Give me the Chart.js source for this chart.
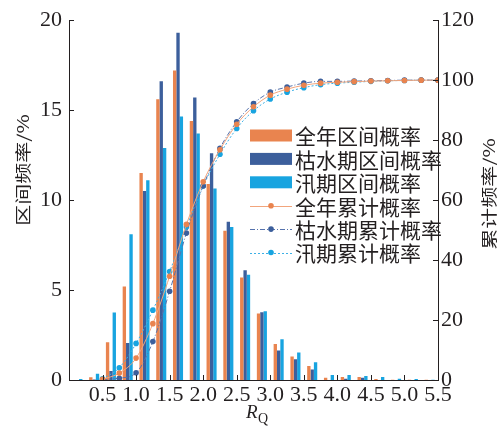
<!DOCTYPE html>
<html>
<head>
<meta charset="utf-8">
<script src="https://cdn.jsdelivr.net/npm/chart.js@4/dist/chart.umd.min.js"></script>
<style>
  html, body { margin: 0; padding: 0; background: #fff; }
</style>
</head>
<body>
<canvas id="myChart" width="497" height="435"></canvas>
<script>
// histogram bins (RQ), 0.25 wide, given by their centres
let binCentres = [0.125, 0.375, 0.625, 0.875, 1.125, 1.375, 1.625, 1.875, 2.125, 2.375, 2.625,
                  2.875, 3.125, 3.375, 3.625, 3.875, 4.125, 4.375, 4.625, 4.875, 5.125, 5.375];
let annualFreq = [0, 0.15, 2.1, 5.2, 11.5, 15.6, 17.2, 14.4, 10.9, 8.3, 5.7,
                  3.7, 2.0, 1.3, 0.78, 0.13, 0.17, 0.17, 0.05, 0.02, 0.02, 0.02];
let dryFreq = [0, 0.03, 0.5, 2.05, 10.5, 16.6, 19.3, 15.7, 12.6, 8.8, 6.1,
               3.77, 1.64, 1.16, 0.59, 0, 0.07, 0.13, 0, 0, 0, 0];
let floodFreq = [0.05, 0.35, 3.75, 8.1, 11.1, 12.9, 14.65, 13.7, 10.65, 8.5, 5.85,
                 3.82, 2.27, 1.53, 0.98, 0.28, 0.28, 0.22, 0.17, 0.07, 0.05, 0.02];

// cumulative curves, read at the right edge of each bin
let cumEdges = [0.5, 0.75, 1.0, 1.25, 1.5, 1.75, 2.0, 2.25, 2.5, 2.75, 3.0,
                3.25, 3.5, 3.75, 4.0, 4.25, 4.5, 4.75, 5.0, 5.25, 5.5];
let annualCum = [0.2, 2.3, 7.3, 18.8, 34.6, 51.9, 66.1, 76.8, 85.3, 91.1, 95.0,
                 97.0, 98.3, 99.0, 99.3, 99.5, 99.7, 99.8, 99.9, 100, 100];
let dryCum = [0.1, 0.6, 2.4, 12.8, 29.6, 49.0, 64.7, 77.3, 86.1, 92.2, 96.0,
              97.7, 99.0, 99.6, 99.6, 99.7, 99.8, 99.9, 100, 100, 100];
let floodCum = [0.4, 4.1, 12.2, 23.3, 36.2, 51.0, 64.7, 75.3, 83.9, 89.8, 93.7,
                96.0, 97.5, 98.5, 99.0, 99.3, 99.6, 99.8, 99.9, 100, 100];

let seriesNames = ['全年区间概率', '枯水期区间概率', '汛期区间概率',
                   '全年累计概率', '枯水期累计概率', '汛期累计概率'];
let xTickLabels = ['0.5', '1.0', '1.5', '2.0', '2.5', '3.0', '3.5', '4.0', '4.5', '5.0', '5.5'];
let leftTitle = '区间频率/%';
let rightTitle = '累计频率/%';

const ink = '#231f20';
const numFont = {family: '"Liberation Serif", "Times New Roman", serif', size: 22};
const cjk = '"Noto Sans CJK SC", sans-serif';

const orange = '#e9844f', navy = '#3c5f9c', cyan = '#18a4e0';

function toXY(xs, ys) {
    return xs.map((x, i) => ({x: x, y: ys[i]}));
}

function barSet(i, ys, color) {
    return {type: 'bar', label: seriesNames[i], data: toXY(binCentres, ys), yAxisID: 'y',
            backgroundColor: color, categoryPercentage: 0.6, barPercentage: 1.0, order: 1};
}
function lineSet(i, ys, lineColor, dotColor, dash) {
    return {type: 'line', label: seriesNames[i], data: toXY(cumEdges, ys), yAxisID: 'y2',
            borderColor: lineColor, borderWidth: 1, borderDash: dash,
            pointRadius: 2.8, pointBorderWidth: 0, pointBackgroundColor: dotColor,
            cubicInterpolationMode: 'monotone', fill: false, order: 0};
}

// inward ticks, axis titles and the legend box are drawn by hand
const decor = {
    id: 'decor',
    afterDraw(chart) {
        const c = chart.ctx, a = chart.chartArea, s = chart.scales;
        c.save();
        c.strokeStyle = ink;
        c.lineWidth = 1;
        c.beginPath();
        s.x.ticks.forEach(t => {
            if (t.value === 0) return;
            const px = Math.round(s.x.getPixelForValue(t.value)) + 0.5;
            c.moveTo(px, a.bottom); c.lineTo(px, a.bottom - 5);
        });
        s.y.ticks.forEach(t => {
            if (t.value === 0) return;
            const py = Math.round(s.y.getPixelForValue(t.value)) + 0.5;
            c.moveTo(a.left, py); c.lineTo(a.left + 5, py);
        });
        s.y2.ticks.forEach(t => {
            if (t.value === 0) return;
            const py = Math.round(s.y2.getPixelForValue(t.value)) + 0.5;
            c.moveTo(a.right, py); c.lineTo(a.right - 5, py);
        });
        c.stroke();

        // rotated axis titles, both reading bottom to top
        c.fillStyle = ink;
        c.textAlign = 'center';
        c.textBaseline = 'middle';
        c.font = '21px ' + cjk;
        [[leftTitle, 23, 170], [rightTitle, 489, 194]].forEach(([txt, cx, cy]) => {
            c.save();
            c.translate(cx, cy);
            c.rotate(-Math.PI / 2);
            c.scale(1, 0.75);
            c.fillText(txt, 0, 0);
            c.restore();
        });

        // x title R with subscript Q
        c.textAlign = 'left';
        c.textBaseline = 'alphabetic';
        c.font = 'italic 19px ' + numFont.family;
        c.fillText('R', 246, 418);
        c.font = '14px ' + numFont.family;
        c.fillText('Q', 258, 423);

        // legend
        const lx = 250, ly = 135.5, dy = 23.4;
        c.font = '21px ' + cjk;
        c.textBaseline = 'middle';
        chart.data.datasets.forEach((ds, i) => {
            const y = ly + i * dy;
            if (ds.type === 'bar') {
                c.fillStyle = ds.backgroundColor;
                c.fillRect(lx, y - 6, 42, 12);
            } else {
                c.strokeStyle = ds.borderColor;
                c.setLineDash(ds.borderDash || []);
                c.beginPath();
                c.moveTo(lx, Math.round(y) + 0.5);
                c.lineTo(lx + 42, Math.round(y) + 0.5);
                c.stroke();
                c.setLineDash([]);
                c.fillStyle = ds.pointBackgroundColor;
                c.beginPath();
                c.arc(lx + 21, y, 2.8, 0, Math.PI * 2);
                c.fill();
            }
            c.fillStyle = ink;
            c.fillText(ds.label, lx + 45, y + 1);
        });
        c.restore();
    }
};

let ctx = document.getElementById('myChart');

let myChart = new Chart(ctx, {
    type: 'bar',
    data: {
        datasets: [
            barSet(0, annualFreq, orange),
            barSet(1, dryFreq, navy),
            barSet(2, floodFreq, cyan),
            lineSet(3, annualCum, '#f2a57c', orange, []),
            lineSet(4, dryCum, '#5673ad', navy, [5, 2, 1, 2]),
            lineSet(5, floodCum, '#3cb0e6', cyan, [2, 2])
        ]
    },
    options: {
        responsive: false,
        animation: false,
        layout: {padding: {top: 19, left: 0, right: 0, bottom: 0}},
        plugins: {legend: {display: false}, tooltip: {enabled: false}},
        scales: {
            x: {
                type: 'linear', min: 0, max: 5.5, offset: false,
                grid: {display: false, offset: false, drawTicks: false},
                border: {color: ink, width: 1},
                ticks: {
                    stepSize: 0.5, autoSkip: false, maxRotation: 0, padding: 2,
                    font: numFont, color: ink,
                    callback: v => v === 0 ? '' : xTickLabels[Math.round(v / 0.5) - 1]
                },
                afterFit: sc => { sc.height = 55; }
            },
            y: {
                position: 'left', min: 0, max: 20,
                grid: {display: false, drawTicks: false},
                border: {color: ink, width: 1},
                ticks: {stepSize: 5, padding: 7, font: numFont, color: ink},
                afterFit: sc => { sc.width = 69; }
            },
            y2: {
                position: 'right', min: 0, max: 120,
                grid: {display: false, drawTicks: false},
                border: {color: ink, width: 1},
                ticks: {stepSize: 20, padding: 3, font: numFont, color: ink},
                afterFit: sc => { sc.width = 59; }
            }
        }
    },
    plugins: [decor]
});
</script>
</body>
</html>
